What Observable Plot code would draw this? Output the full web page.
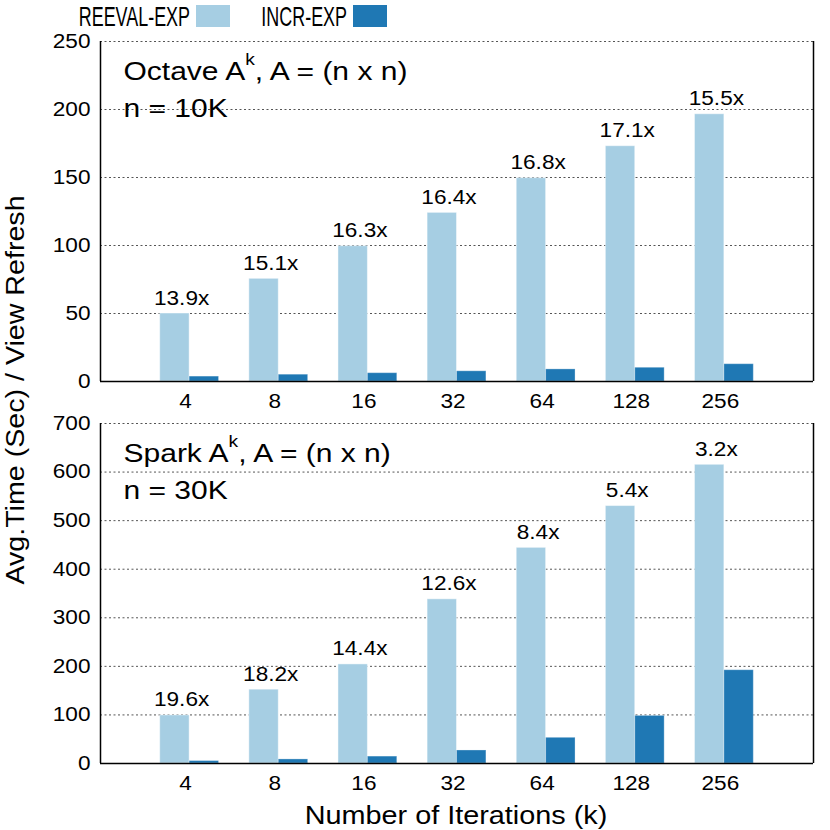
<!DOCTYPE html>
<html>
<head>
<meta charset="utf-8">
<script src="https://cdn.jsdelivr.net/npm/d3@7"></script>
<script src="https://cdn.jsdelivr.net/npm/@observablehq/plot@0.6"></script>
<style>
  html, body { margin: 0; padding: 0; background: white; }
  #chart { position: relative; width: 830px; height: 830px; background: white; font-family: "Liberation Sans", Arial, sans-serif; }
  #chart > svg { position: absolute; left: 0; }
</style>
</head>
<body>
<div id="chart"></div>
<script>
const iterations = ["4", "8", "16", "32", "64", "128", "256"];
const seriesNames = ["REEVAL-EXP", "INCR-EXP"];
const seriesColors = ["#a6cee3", "#1f78b4"];

const octaveReeval = [50, 75.5, 99.5, 124, 149.5, 173, 196.5];
const octaveIncr = [3.6, 5.0, 6.1, 7.5, 8.9, 10.1, 12.7];
const octaveSpeedup = ["13.9x", "15.1x", "16.3x", "16.4x", "16.8x", "17.1x", "15.5x"];

const sparkReeval = [99, 152, 204, 338, 444, 530, 615];
const sparkIncr = [5, 8.4, 14.2, 26.8, 52.9, 98, 192];
const sparkSpeedup = ["19.6x", "18.2x", "14.4x", "12.6x", "8.4x", "5.4x", "3.2x"];

const panelTitles = ["Octave A^k, A = (n x n)", "Spark A^k, A = (n x n)"];
const panelSubtitles = ["n = 10K", "n = 30K"];
const yTicksTop = [0, 50, 100, 150, 200, 250];
const yTicksBottom = [0, 100, 200, 300, 400, 500, 600, 700];

const xLabel = "Number of Iterations (k)";
const yLabel = "Avg.Time (Sec) / View Refresh";

const FONT = "Liberation Sans, Arial, sans-serif";
const BW = 0.33; // bar width in category units

function panel({reeval, incr, speedup, yTicks, title, sub, marginTop, marginBottom}) {
  const rows = iterations.map((k, i) => ({i, k, reeval: reeval[i], incr: incr[i], label: speedup[i]}));
  const yMax = yTicks[yTicks.length - 1];
  return Plot.plot({
    width: 830,
    height: 415,
    marginLeft: 100,
    marginRight: 17,
    marginTop,
    marginBottom,
    x: {type: "linear", domain: [-1, 7]},
    y: {domain: [0, yMax]},
    style: {fontFamily: FONT, fontSize: "20px", background: "transparent", overflow: "visible", color: "black"},
    marks: [
      Plot.ruleY(yTicks.slice(1), {stroke: "#555", strokeDasharray: "2,2.5", strokeWidth: 1}),
      Plot.rect(rows, {x1: d => d.i - BW, x2: "i", y1: 0, y2: "reeval", fill: seriesColors[0], stroke: "#ffffff", strokeOpacity: 0.45, strokeWidth: 1}),
      Plot.rect(rows, {x1: "i", x2: d => d.i + BW, y1: 0, y2: "incr", fill: seriesColors[1], stroke: "#ffffff", strokeOpacity: 0.3, strokeWidth: 1}),
      Plot.text(rows, {x: d => d.i - 0.09, y: "reeval", text: "label", lineAnchor: "bottom", dy: -9, fontSize: 20, fill: "black"}),
      Plot.ruleY([0], {stroke: "black", strokeWidth: 1.5}),
      Plot.ruleX([-1, 7], {y1: 0, y2: yMax, stroke: "black", strokeWidth: 1.5}),
      Plot.axisY(yTicks, {tickSize: 0, tickPadding: 10, fontSize: 20, label: null}),
      Plot.axisX(d3.range(iterations.length), {tickSize: 0, tickPadding: 12, tickFormat: i => iterations[i], dx: -4, fontSize: 20, label: null}),
      Plot.text([title], {frameAnchor: "top-left", dx: 23, dy: 38, lineAnchor: "bottom", fontSize: 25, fill: "black", className: "anno"}),
      Plot.text([sub], {frameAnchor: "top-left", dx: 23, dy: 75, lineAnchor: "bottom", fontSize: 25, fill: "black", className: "anno"})
    ]
  });
}

function superscript(root) {
  root.querySelectorAll("text").forEach(t => {
    const s = t.textContent;
    const idx = s.indexOf("^k");
    if (idx < 0) return;
    const before = s.slice(0, idx), after = s.slice(idx + 2);
    while (t.firstChild) t.removeChild(t.firstChild);
    const ns = "http://www.w3.org/2000/svg";
    const a = document.createElementNS(ns, "tspan"); a.textContent = before;
    const b = document.createElementNS(ns, "tspan"); b.textContent = "k";
    b.setAttribute("dy", "-15"); b.setAttribute("font-size", "16");
    const c = document.createElementNS(ns, "tspan"); c.textContent = after;
    c.setAttribute("dy", "15");
    t.appendChild(a); t.appendChild(b); t.appendChild(c);
  });
}

function stretch(nodes, f) {
  nodes.forEach(t => {
    const L = t.getComputedTextLength();
    if (L > 0) {
      t.setAttribute("textLength", (L * f).toFixed(2));
      t.setAttribute("lengthAdjust", "spacingAndGlyphs");
    }
  });
}

const chart = document.getElementById("chart");

const topPanel = panel({reeval: octaveReeval, incr: octaveIncr, speedup: octaveSpeedup, yTicks: yTicksTop,
  title: panelTitles[0], sub: panelSubtitles[0], marginTop: 41, marginBottom: 34});
topPanel.style.top = "0px";
chart.appendChild(topPanel);

const bottomPanel = panel({reeval: sparkReeval, incr: sparkIncr, speedup: sparkSpeedup, yTicks: yTicksBottom,
  title: panelTitles[1], sub: panelSubtitles[1], marginTop: 8, marginBottom: 67});
bottomPanel.style.top = "415px";
chart.appendChild(bottomPanel);

// overlay: legend and shared axis titles
const overlay = d3.select(chart).append("svg")
  .attr("width", 830).attr("height", 830)
  .style("top", "0px")
  .style("pointer-events", "none")
  .attr("font-family", FONT);

const legendTextEnds = [190, 347];
const legend = overlay.append("g").attr("class", "legend");
seriesNames.forEach((name, i) => {
  legend.append("text").attr("x", legendTextEnds[i]).attr("y", 26)
    .attr("text-anchor", "end").attr("font-size", 28).attr("fill", "black").text(name);
  legend.append("rect").attr("x", legendTextEnds[i] + 6).attr("y", 5)
    .attr("width", 34).attr("height", 22).attr("fill", seriesColors[i]);
});

const titles = overlay.append("g").attr("class", "titles");
titles.append("text").attr("x", 456).attr("y", 824).attr("text-anchor", "middle")
  .attr("font-size", 25.5).attr("fill", "black").text(xLabel);
titles.append("text").attr("transform", "translate(24,390) rotate(-90)").attr("text-anchor", "middle")
  .attr("font-size", 26.5).attr("fill", "black").text(yLabel);

[topPanel, bottomPanel].forEach(svg => {
  superscript(svg);
  const all = Array.from(svg.querySelectorAll("text"));
  const anno = Array.from(svg.querySelectorAll(".anno text"));
  stretch(all.filter(t => !anno.includes(t)), 1.13);
  stretch(anno, 1.2);
});
stretch(Array.from(legend.node().querySelectorAll("text")), 0.64);
titles.selectAll("text").each(function(d, i) {
  const L = this.getComputedTextLength();
  const f = i === 0 ? 1.13 : 1.08;
  this.setAttribute("textLength", (L * f).toFixed(2));
  this.setAttribute("lengthAdjust", "spacingAndGlyphs");
});
</script>
</body>
</html>
